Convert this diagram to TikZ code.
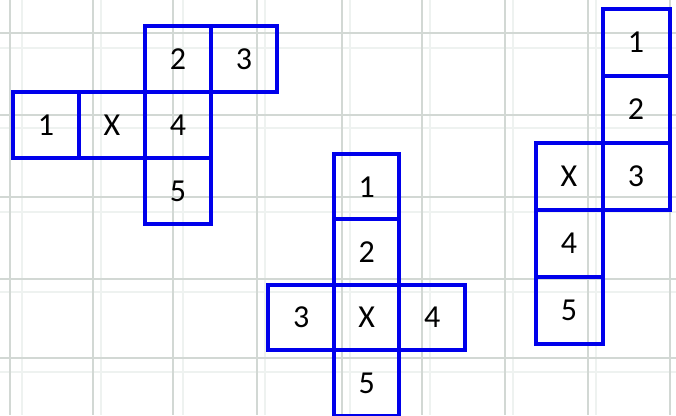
\documentclass[tikz,border=0pt]{standalone}
\usepackage{fontspec}
\setmainfont{Carlito}
\definecolor{netblue}{RGB}{0,0,235}
\definecolor{gridline}{RGB}{210,216,212}
\definecolor{gridfaint}{RGB}{238,242,240}
\begin{document}
\begin{tikzpicture}[x=1pt,y=-1pt,
  cellL/.style={draw=netblue,line width=4pt,minimum width=66pt,minimum height=66pt,inner sep=0pt,font=\fontsize{32}{32}\selectfont},
  cellM/.style={cellL,minimum width=65.5pt,minimum height=65.5pt},
  cellR/.style={cellL,minimum width=67pt,minimum height=67pt},
  gridmain/.style={draw=gridline,line width=1.5pt},
  gridsub/.style={draw=gridfaint,line width=2pt}]
\fill[white] (0,0) rectangle (676,415);
\useasboundingbox (0,0) rectangle (676,415);
% faint background grid
\foreach \x in {22,101,183,265,350,430,513,596}
  \draw[gridsub] (\x,0) -- (\x,415);
\foreach \y in {48,128,212,292,372}
  \draw[gridsub] (0,\y) -- (676,\y);
\foreach \x in {10,93,173,257,342,422,505,588,670}
  \draw[gridmain] (\x,0) -- (\x,415);
\foreach \y in {33,115,197,279,358}
  \draw[gridmain] (0,\y) -- (676,\y);
% left net
\node[cellL] (l2) at (178,59) {2};
\node[cellL] (l3) at (244,59) {3};
\node[cellL] (l1) at (46,125) {1};
\node[cellL] (lx) at (112,125) {X};
\node[cellL] (l4) at (178,125) {4};
\node[cellL] (l5) at (178,191) {5};
% middle net
\node[cellM] (m1) at (366.7,186.7) {1};
\node[cellM] (m2) at (366.7,252.2) {2};
\node[cellM] (m3) at (301.2,317.7) {3};
\node[cellM] (mx) at (366.7,317.7) {X};
\node[cellM] (m4) at (432.2,317.7) {4};
\node[cellM] (m5) at (366.7,383.2) {5};
% right net
\node[cellR] (r1) at (636,42) {1};
\node[cellR] (r2) at (636,109) {2};
\node[cellR] (r3) at (636,176) {3};
\node[cellR] (rx) at (569,176) {X};
\node[cellR] (r4) at (569,243) {4};
\node[cellR] (r5) at (569,310) {5};
\end{tikzpicture}
\end{document}
